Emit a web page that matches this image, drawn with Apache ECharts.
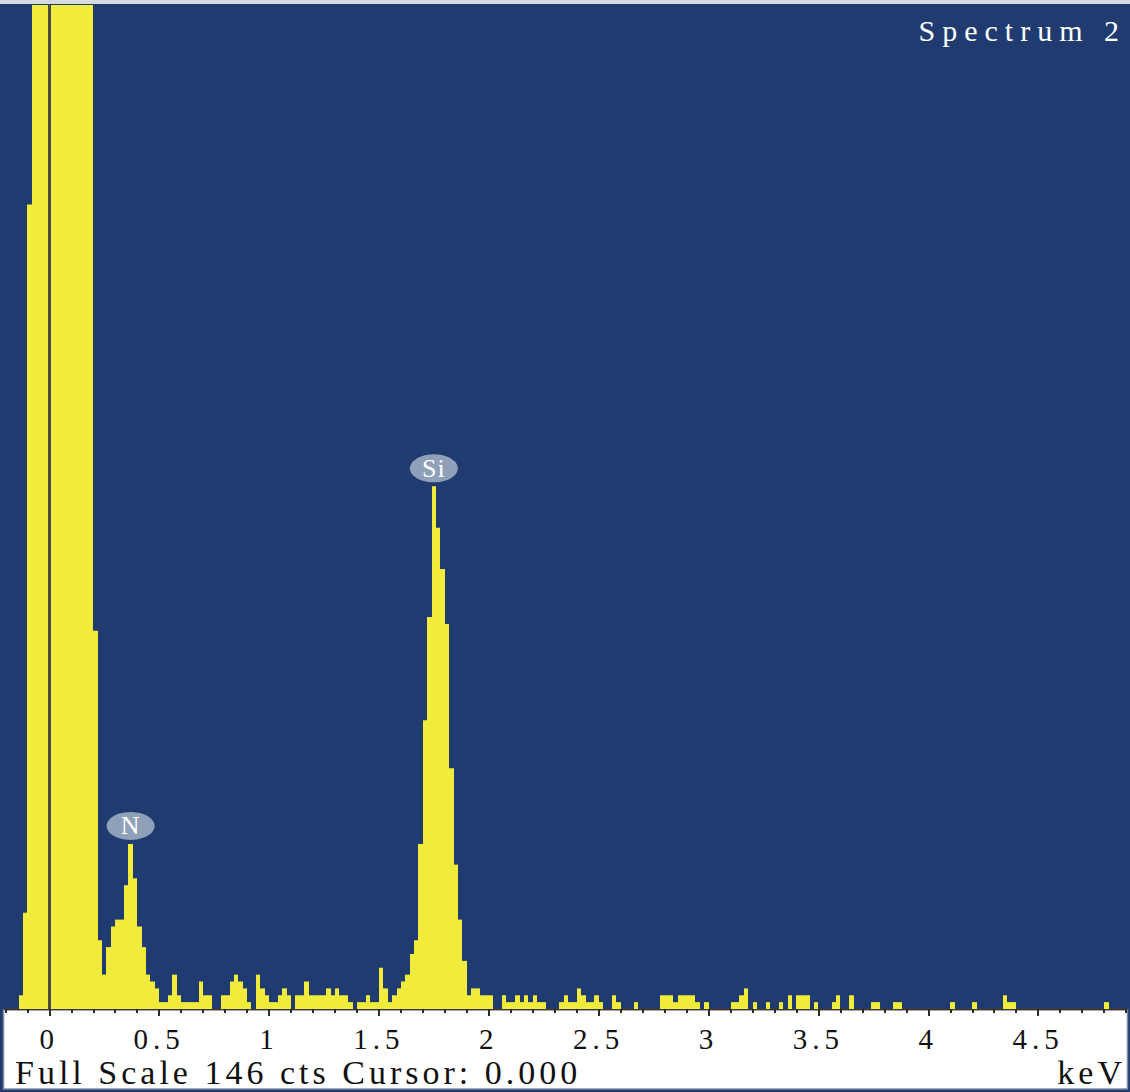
<!DOCTYPE html>
<html>
<head>
<meta charset="utf-8">
<title>Spectrum 2</title>
<script src="https://cdn.jsdelivr.net/npm/echarts@6/dist/echarts.min.js"></script>
<style>
  html, body { margin: 0; padding: 0; background: #fff; }
  #chart { width: 1130px; height: 1092px; }
  /* the reference lettering is stretched wide, open the letters up a bit */
  #chart text { letter-spacing: 4px; }
  #chart text[style*="29px"] { letter-spacing: 5px; }
  #chart text[style*="30px"] { letter-spacing: 7px; }
  #chart text[style*="34px"] { letter-spacing: 4px; }
  #chart text[style*="26px"] { letter-spacing: 1px; }
</style>
</head>
<body>
<div id="chart"></div>
<script>
// EDS spectrum, 0.02 keV channels starting at -0.2 keV
const CHANNEL_START = -0.2;
const CHANNEL_WIDTH = 0.02;
const FULL_SCALE = 146;
const CURSOR_KEV = 0;

// counts per channel (the zero peak runs off scale)
const COUNTS = [
  0, 0, 0, 2, 14, 117, 260, 520, 860, 1150,
  1240, 1020, 780, 560, 400, 300, 240, 200, 175, 158,
  55, 10, 5, 9, 12, 13, 13, 18, 24, 19,
  12, 9, 5, 4, 3, 1, 1, 2, 5, 2,
  1, 1, 1, 1, 4, 2, 2, 0, 0, 2,
  2, 4, 5, 4, 3, 1, 0, 5, 3, 2,
  1, 1, 2, 3, 2, 0, 2, 2, 4, 2,
  2, 2, 2, 3, 2, 3, 2, 2, 1, 0,
  1, 1, 2, 1, 1, 6, 3, 1, 2, 3,
  4, 5, 8, 10, 24, 42, 57, 76, 70, 64,
  56, 35, 21, 13, 7, 2, 3, 3, 2, 2,
  2, 0, 0, 2, 1, 1, 2, 1, 2, 1,
  2, 1, 1, 0, 0, 0, 1, 2, 1, 1,
  3, 2, 1, 1, 2, 1, 0, 0, 2, 1,
  0, 0, 0, 1, 0, 0, 0, 0, 0, 2,
  2, 2, 1, 2, 2, 2, 2, 1, 0, 1,
  0, 0, 0, 0, 0, 1, 1, 2, 3, 0,
  1, 0, 0, 1, 0, 0, 1, 0, 2, 0,
  2, 2, 2, 0, 1, 0, 0, 0, 1, 2,
  0, 0, 2, 0, 0, 0, 0, 1, 1, 0,
  0, 0, 1, 1, 0, 0, 0, 0, 0, 0,
  0, 0, 0, 0, 0, 1, 0, 0, 0, 0,
  1, 0, 0, 0, 0, 0, 0, 2, 1, 1,
  0, 0, 0, 0, 0, 0, 0, 0, 0, 0,
  0, 0, 0, 0, 0, 0, 0, 0, 0, 0,
  1, 0, 0, 0, 0
];

const MAJOR_TICKS = [0, 0.5, 1, 1.5, 2, 2.5, 3, 3.5, 4, 4.5];

const PEAK_NAMES = ['N', 'Si'];
const PEAK_KEV = [0.37, 1.75];

const TITLE = 'Spectrum 2';
const FOOTER = 'Full Scale 146 cts Cursor: 0.000';
const UNIT = 'keV';

const BLUE = '#1f3b6f';
const YELLOW = '#f1ec3b';
const SERIF = '"Liberation Serif", "Times New Roman", serif';

const spectrum = COUNTS.map((c, i) => [CHANNEL_START + CHANNEL_WIDTH * (i + 0.5), c]);

const peaks = PEAK_KEV.map((e, i) => {
  const idx = Math.round((e - CHANNEL_START) / CHANNEL_WIDTH - 0.5);
  return { name: PEAK_NAMES[i], value: [e, COUNTS[idx]] };
});

const chart = echarts.init(document.getElementById('chart'), null, { renderer: 'svg' });

const option = {
  animation: false,
  backgroundColor: '#fff',
  grid: { left: 5.35, right: 3.9, top: 5, bottom: 83 },
  xAxis: [
    {
      type: 'value',
      min: -0.2,
      max: 4.9,
      interval: 0.1,
      position: 'bottom',
      axisLine: { show: true, onZero: false, lineStyle: { color: '#3a3a3a', width: 2 } },
      axisTick: { show: true, length: 4, lineStyle: { color: '#2a2a2a', width: 2 } },
      axisLabel: { show: false },
      splitLine: { show: false }
    },
    {
      type: 'value',
      min: -0.2,
      max: 4.9,
      position: 'bottom',
      axisLine: { show: false, onZero: false },
      axisTick: { show: true, length: 7, customValues: MAJOR_TICKS, lineStyle: { color: '#2a2a2a', width: 2 } },
      axisLabel: {
        show: true,
        customValues: MAJOR_TICKS,
        margin: 17,
        fontSize: 29,
        lineHeight: 25,
        fontFamily: SERIF,
        color: '#111'
      },
      splitLine: { show: false }
    }
  ],
  yAxis: { type: 'value', min: 0, max: FULL_SCALE, show: false },
  graphic: [
    { type: 'rect', z: -10, silent: true, shape: { x: 0, y: 0, width: 1130, height: 1092 }, style: { fill: BLUE } },
    { type: 'rect', z: -9, silent: true, shape: { x: 0, y: 0, width: 1130, height: 4 }, style: { fill: '#d6dbe3' } },
    {
      type: 'rect', z: -8, silent: true,
      shape: { x: 3.5, y: 1010, width: 1124, height: 79 },
      style: { fill: '#fff', stroke: '#7f8ca3', lineWidth: 1.5 }
    },
    {
      type: 'text', z: 10, silent: true, x: 1126, y: 30,
      style: { text: TITLE, fill: '#fff', fontSize: 30, fontFamily: SERIF, textAlign: 'right', textVerticalAlign: 'middle' }
    },
    {
      type: 'text', z: 10, silent: true, x: 15, y: 1072,
      style: { text: FOOTER, fill: '#111', fontSize: 34, lineHeight: 28, fontFamily: SERIF, textAlign: 'left', textVerticalAlign: 'middle' }
    },
    {
      type: 'text', z: 10, silent: true, x: 1126, y: 1072,
      style: { text: UNIT, fill: '#111', fontSize: 34, lineHeight: 28, fontFamily: SERIF, textAlign: 'right', textVerticalAlign: 'middle' }
    }
  ],
  series: [
    {
      type: 'custom',
      xAxisIndex: 0,
      clip: true,
      silent: true,
      data: spectrum,
      encode: { x: 0, y: 1 },
      renderItem: (params, api) => {
        const e = api.value(0);
        const c = api.value(1);
        const x0 = Math.round(api.coord([e - CHANNEL_WIDTH / 2, 0])[0]);
        const x1 = Math.round(api.coord([e + CHANNEL_WIDTH / 2, 0])[0]);
        const yBase = api.coord([e, 0])[1];
        const yTop = api.coord([e, c])[1];
        return {
          type: 'rect',
          shape: { x: x0, y: yTop, width: x1 - x0, height: yBase - yTop },
          style: { fill: YELLOW }
        };
      }
    },
    {
      type: 'scatter',
      xAxisIndex: 0,
      silent: true,
      z: 5,
      data: peaks,
      symbol: 'circle',
      symbolSize: [48, 28],
      symbolOffset: [0, -18],
      itemStyle: { color: '#8fa0b9', opacity: 1 },
      label: {
        show: true,
        position: 'inside',
        formatter: '{b}',
        color: '#fff',
        fontSize: 26,
        fontFamily: SERIF
      },
      emphasis: { disabled: true },
      markLine: {
        silent: true,
        symbol: ['none', 'none'],
        label: { show: false },
        lineStyle: { color: '#4b4b45', width: 3, type: 'solid' },
        data: [{ xAxis: CURSOR_KEV }]
      }
    }
  ]
};

chart.setOption(option);
</script>
</body>
</html>
